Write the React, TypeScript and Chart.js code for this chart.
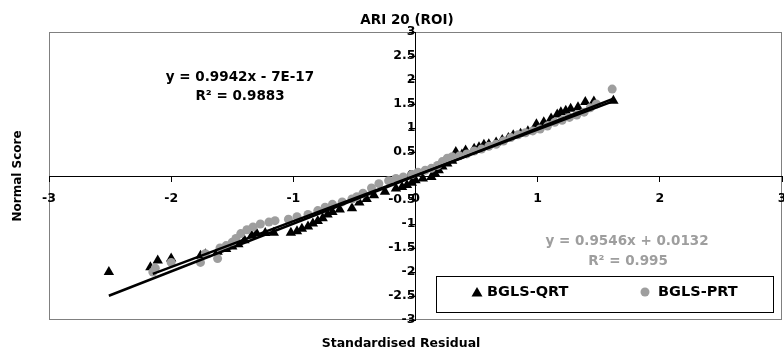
import React, { useEffect, useRef } from "react";
import { Chart, registerables } from "chart.js";

Chart.register(...registerables);

const TITLE = "ARI 20 (ROI)";
const X_TITLE = "Standardised Residual";
const Y_TITLE = "Normal Score";
const SERIES_NAMES = ["BGLS-QRT", "BGLS-PRT"];

// BGLS-QRT (black triangles): standardised residual, normal score
const qrtResidual = [
  -2.51, -2.17, -2.11, -2.0, -1.76, -1.72, -1.62, -1.55, -1.5, -1.45,
  -1.4, -1.34, -1.3, -1.23, -1.16, -1.02, -0.97, -0.93, -0.88, -0.84,
  -0.8, -0.76, -0.72, -0.68, -0.62, -0.52, -0.46, -0.4, -0.34, -0.25,
  -0.16, -0.11, -0.07, -0.03, 0.0, 0.06, 0.13, 0.16, 0.19, 0.22,
  0.26, 0.3, 0.33, 0.38, 0.41, 0.48, 0.52, 0.56, 0.6, 0.66,
  0.71, 0.76, 0.8, 0.86, 0.92, 0.99, 1.05, 1.11, 1.16, 1.19,
  1.23, 1.27, 1.33, 1.39, 1.46, 1.62,
];
const qrtScore = [
  -2.0, -1.9, -1.76, -1.72, -1.66, -1.63, -1.58, -1.52, -1.47, -1.42,
  -1.34, -1.24, -1.2, -1.19, -1.18, -1.18, -1.15, -1.1, -1.05, -0.99,
  -0.94, -0.88, -0.8, -0.75, -0.7, -0.67, -0.55, -0.48, -0.4, -0.33,
  -0.26, -0.23, -0.19, -0.14, -0.09, -0.05, -0.02, 0.05, 0.12, 0.2,
  0.26, 0.32, 0.5, 0.45, 0.53, 0.57, 0.6, 0.65, 0.66, 0.7,
  0.75, 0.79, 0.85, 0.88, 0.93, 1.08, 1.12, 1.2, 1.28, 1.33,
  1.36, 1.4, 1.43, 1.54, 1.55, 1.57,
];

// BGLS-PRT (grey circles)
const prtResidual = [
  -2.15, -2.13, -2.0, -1.76, -1.62, -1.72, -1.6, -1.55, -1.5, -1.47,
  -1.43, -1.38, -1.33, -1.27, -1.2, -1.15, -1.04, -0.97, -0.88, -0.8,
  -0.74, -0.68, -0.6, -0.52, -0.48, -0.43, -0.36, -0.3, -0.22, -0.16,
  -0.1, -0.03, 0.02, 0.08, 0.13, 0.18, 0.22, 0.26, 0.3, 0.36,
  0.42, 0.48, 0.54, 0.6, 0.66, 0.72, 0.78, 0.84, 0.9, 0.96,
  1.02, 1.08, 1.14, 1.2, 1.26, 1.32, 1.38, 1.43, 1.48, 1.61,
];
const prtScore = [
  -2.0, -1.92, -1.8, -1.8, -1.72, -1.62, -1.5, -1.45, -1.38, -1.3,
  -1.2, -1.12, -1.06, -1.0, -0.96, -0.93, -0.9, -0.85, -0.8, -0.72,
  -0.65, -0.59, -0.54, -0.48, -0.43, -0.36, -0.25, -0.16, -0.1, -0.05,
  -0.02, 0.03, 0.08, 0.12, 0.16, 0.22, 0.3, 0.37, 0.4, 0.42,
  0.46, 0.52, 0.56, 0.62, 0.66, 0.73, 0.8, 0.86, 0.9, 0.94,
  0.98, 1.04, 1.12, 1.16, 1.22, 1.27, 1.33, 1.42, 1.5, 1.81,
];

// Linear trendlines: [slope, intercept] and x-extent
const qrtFit = [0.9942, -7e-17];
const prtFit = [0.9546, 0.0132];
const qrtFitRange = [-2.51, 1.62];
const prtFitRange = [-2.15, 1.61];
const qrtEquation = ["y = 0.9942x - 7E-17", "R² = 0.9883"];
const prtEquation = ["y = 0.9546x + 0.0132", "R² = 0.995"];

const FONT = '"DejaVu Sans", sans-serif';
const GREY = "#9e9e9e";

const pts = (xs: number[], ys: number[]) => xs.map((x, i) => ({ x, y: ys[i] }));
const fitLine = (fit: number[], range: number[]) =>
  range.map((x) => ({ x, y: fit[0] * x + fit[1] }));

const overlay = {
  id: "overlay",
  beforeDraw(chart: any) {
    const { ctx, chartArea: a } = chart;
    ctx.save();
    ctx.fillStyle = "#ffffff";
    ctx.fillRect(0, 0, chart.width, chart.height);
    ctx.strokeStyle = "#808080";
    ctx.lineWidth = 1;
    ctx.strokeRect(a.left + 0.5, a.top + 0.5, a.right - a.left - 1, a.bottom - a.top - 1);
    ctx.restore();
  },
  afterDraw(chart: any) {
    const { ctx } = chart;
    ctx.save();
    ctx.textBaseline = "middle";
    ctx.textAlign = "center";
    ctx.fillStyle = "#000";
    // title
    ctx.font = `bold 13.5px ${FONT}`;
    ctx.fillText(TITLE, 407, 20);
    // x title
    ctx.font = `bold 12.5px ${FONT}`;
    ctx.fillText(X_TITLE, 401, 344);
    // y title
    ctx.save();
    ctx.translate(18, 176);
    ctx.rotate(-Math.PI / 2);
    ctx.font = `bold 12px ${FONT}`;
    ctx.fillText(Y_TITLE, 0, 0);
    ctx.restore();
    // equations
    ctx.font = `bold 13.5px ${FONT}`;
    ctx.fillStyle = "#000";
    ctx.fillText(qrtEquation[0], 240, 77);
    ctx.fillText(qrtEquation[1], 240, 96);
    ctx.fillStyle = GREY;
    ctx.fillText(prtEquation[0], 627, 241);
    ctx.fillText(prtEquation[1], 628, 261);
    // legend
    ctx.fillStyle = "#fff";
    ctx.fillRect(436, 276, 337, 36);
    ctx.strokeStyle = "#000";
    ctx.lineWidth = 1;
    ctx.strokeRect(436.5, 276.5, 337, 36);
    // triangle marker
    ctx.fillStyle = "#000";
    ctx.beginPath();
    ctx.moveTo(477, 287);
    ctx.lineTo(482.5, 296.5);
    ctx.lineTo(471.5, 296.5);
    ctx.closePath();
    ctx.fill();
    // circle marker
    ctx.fillStyle = GREY;
    ctx.beginPath();
    ctx.arc(645, 292, 4.5, 0, Math.PI * 2);
    ctx.fill();
    ctx.fillStyle = "#000";
    ctx.textAlign = "left";
    ctx.font = `bold 14.5px ${FONT}`;
    ctx.fillText(SERIES_NAMES[0], 487, 292);
    ctx.fillText(SERIES_NAMES[1], 658, 292);
    ctx.restore();
  },
};

export default function App() {
  const ref = useRef<HTMLCanvasElement | null>(null);
  useEffect(() => {
    if (!ref.current) return;
    const tickFont = { family: FONT, size: 12.5, weight: "bold" as const };
    const fmt = (v: any) => String(Math.round(Number(v) * 100) / 100);
    const chart = new Chart(ref.current, {
      type: "scatter",
      data: {
        datasets: [
          {
            type: "line",
            label: "QRT trend",
            data: fitLine(qrtFit, qrtFitRange),
            borderColor: "#000",
            borderWidth: 2.5,
            pointRadius: 0,
            showLine: true,
            order: 0,
          },
          {
            type: "line",
            label: "PRT trend",
            data: fitLine(prtFit, prtFitRange),
            borderColor: "#000",
            borderWidth: 2.5,
            pointRadius: 0,
            showLine: true,
            order: 0,
          },
          {
            label: SERIES_NAMES[1],
            data: pts(prtResidual, prtScore),
            pointStyle: "circle",
            pointRadius: 4.5,
            backgroundColor: GREY,
            borderColor: GREY,
            borderWidth: 0,
            order: 1,
          },
          {
            label: SERIES_NAMES[0],
            data: pts(qrtResidual, qrtScore),
            pointStyle: "triangle",
            pointRadius: 6,
            backgroundColor: "#000",
            borderColor: "#000",
            borderWidth: 0,
            order: 2,
          },
        ],
      },
      options: {
        animation: false,
        responsive: false,
        layout: { padding: { left: 49, right: 0, top: 32, bottom: 34 } },
        plugins: { legend: { display: false }, title: { display: false }, tooltip: { enabled: false } },
        scales: {
          x: {
            type: "linear",
            min: -3,
            max: 3,
            position: { y: 0 } as any,
            afterFit: (s: any) => {
              s.paddingLeft = 0;
              s.paddingRight = 0;
            },
            ticks: { stepSize: 1, font: tickFont, color: "#000", padding: 10, maxRotation: 0, callback: fmt },
            grid: { drawOnChartArea: false, drawTicks: true, tickLength: 5, color: "#000" },
            border: { display: true, color: "#000", width: 1 },
          },
          y: {
            type: "linear",
            min: -3,
            max: 3,
            position: { x: 0 } as any,
            afterFit: (s: any) => {
              s.paddingTop = 0;
              s.paddingBottom = 0;
            },
            ticks: { stepSize: 0.5, font: tickFont, color: "#000", padding: 5, autoSkip: false, callback: fmt },
            grid: { drawOnChartArea: false, drawTicks: true, tickLength: 6, color: "#000" },
            border: { display: true, color: "#000", width: 1 },
          },
        },
      },
      plugins: [overlay],
    });
    return () => chart.destroy();
  }, []);
  return (
    <div style={{ position: "fixed", left: 0, top: 0, width: 788, height: 354, overflow: "visible" }}>
      <canvas ref={ref} width={788} height={354} style={{ display: "block" }} />
    </div>
  );
}
